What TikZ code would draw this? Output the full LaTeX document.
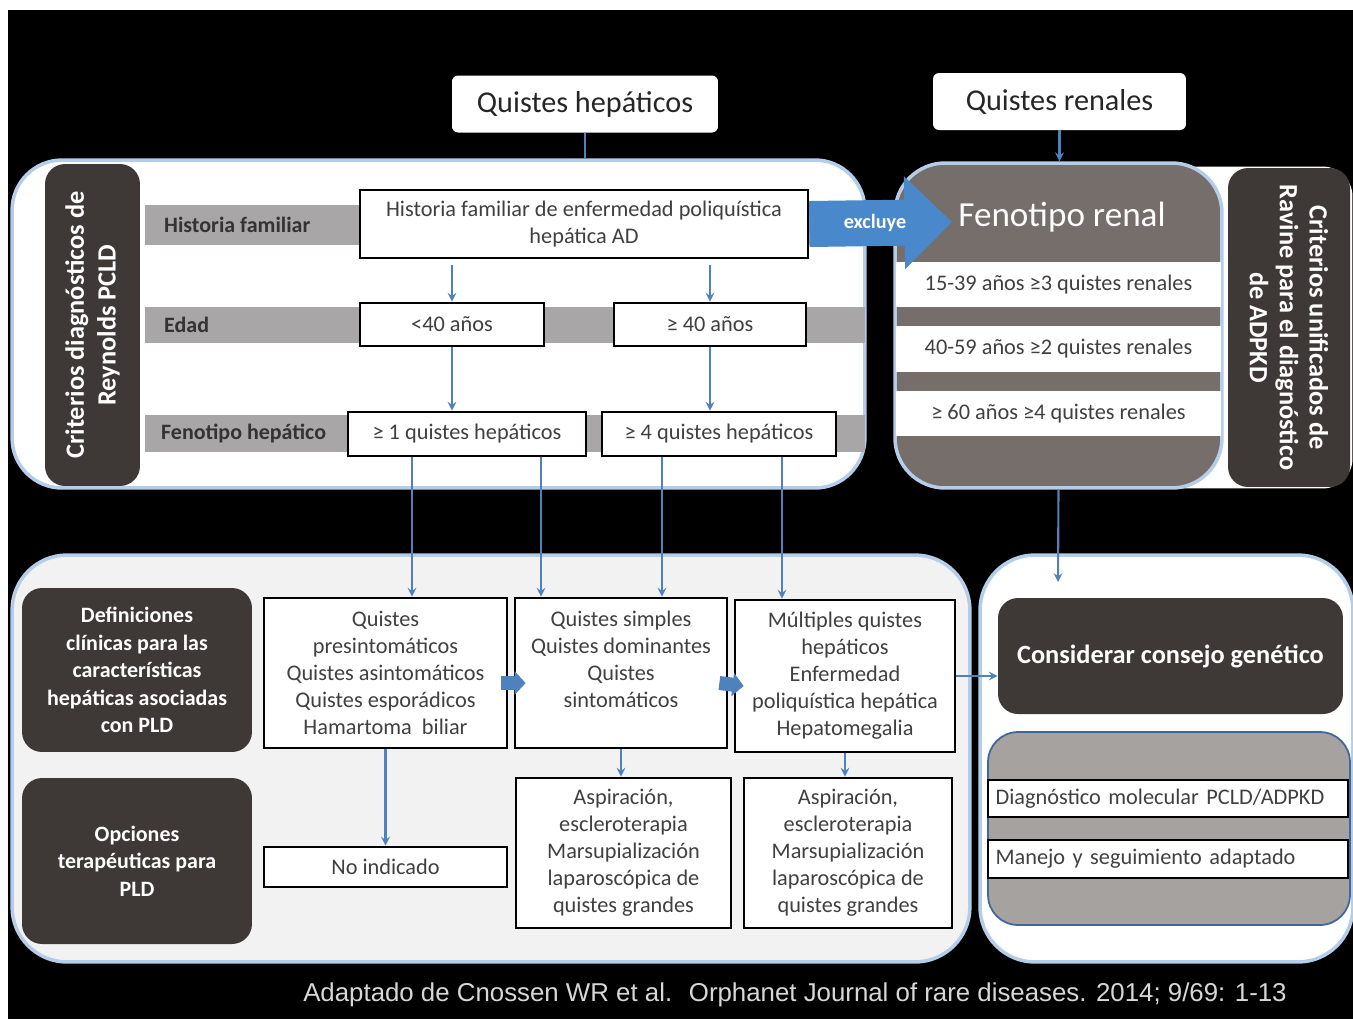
\documentclass[tikz,border=0pt]{standalone}
\usepackage{fontspec}
\setmainfont{Carlito}
\newfontfamily\capfont{Liberation Sans}
\usetikzlibrary{positioning,arrows.meta,calc}
\definecolor{darkbox}{RGB}{62,56,54}
\definecolor{bandgray}{RGB}{168,166,166}
\definecolor{renalgray}{RGB}{118,110,107}
\definecolor{flowblue}{RGB}{79,129,189}
\definecolor{exclblue}{RGB}{74,136,204}
\definecolor{panelgray}{RGB}{242,242,242}
\definecolor{glow}{RGB}{180,205,232}
\definecolor{boxgray}{RGB}{166,162,160}
\definecolor{captxt}{RGB}{215,215,215}
\newcommand\txtbody{\fontsize{12.7}{15.4}\selectfont}
\newcommand\txtlbl{\fontsize{12.5}{15.7}\selectfont\bfseries}

\begin{document}
\begin{tikzpicture}[x=0.02cm,y=-0.02cm,
  panel/.style={draw=glow,line width=2pt,rounded corners=1cm,inner sep=0pt},
  title/.style={fill=white,rounded corners=0.12cm,minimum height=1.14cm,font=\fontsize{17.2}{19}\selectfont,text=black!85},
  darklbl/.style={fill=darkbox,rounded corners=0.4cm,text=white,align=center,inner sep=0pt},
  band/.style={fill=bandgray,minimum width=14.4cm,inner sep=0pt,anchor=west},
  rowlbl/.style={font=\fontsize{12.5}{14}\selectfont\bfseries,text=black!80,anchor=west},
  critbox/.style={draw=black,line width=1.6pt,fill=white,align=center,text=black!75,font=\txtbody,inner sep=1pt},
  strip/.style={fill=white,minimum width=6.5cm,text=black!75,font=\txtbody,inner sep=0pt},
  flow/.style={-stealth,draw=flowblue,line width=1.2pt},
  blockarr/.style={draw=flowblue,line width=0.28cm,-{Triangle[width=0.46cm,length=0.22cm]}}]
\useasboundingbox (0,0) rectangle (1353,1019);
\fill[white] (0,0) rectangle (1353,1019);
\fill[black] (8,10) rectangle (1353,1019);

% titles
\node[title,minimum width=5.32cm] (qhep) at (585,104) {Quistes hepáticos};
\node[title,minimum width=5.06cm] (qren) at (1059.5,101.5) {Quistes renales};

% upper left panel: Reynolds
\node[panel,fill=white,minimum width=17.06cm,minimum height=6.56cm] (hpanel) at (438.5,324) {};
\node[darklbl,rotate=90,minimum width=6.44cm,minimum height=1.9cm,font=\fontsize{15}{18}\selectfont\bfseries] (reyn) at (92.5,325) {Criterios diagnósticos de\\Reynolds PCLD};
\node[band,minimum height=0.8cm] (bandHist) at (145,225) {};
\node[band,minimum height=0.72cm] (bandEdad) at (145,325) {};
\node[band,minimum height=0.74cm] (bandFen) at (145,433.5) {};
\node[rowlbl] (lblHist) at (158,225) {Historia familiar};
\node[rowlbl] (lblEdad) at (158,325) {Edad};
\node[rowlbl] (lblFen) at (155,433.5) {Fenotipo hepático};

\node[critbox,minimum width=8.96cm,minimum height=1.36cm] (hist) at (584,224) {Historia familiar de enfermedad poliquística\\hepática AD};
\node[critbox,minimum width=3.68cm,minimum height=0.86cm] (menos40) at (452,324.5) {<40 años};
\node[critbox,minimum width=3.84cm,minimum height=0.86cm] (mas40) at (710,324.5) {≥ 40 años};
\node[critbox,minimum width=4.76cm,minimum height=0.88cm] (q1) at (467,434) {≥ 1 quistes hepáticos};
\node[critbox,minimum width=4.68cm,minimum height=0.88cm] (q4) at (719,434) {≥ 4 quistes hepáticos};

% upper right panel: Ravine
\node[fill=white,minimum width=4.5cm,minimum height=6.44cm,rounded corners=0.6cm] (ravpanel) at (1240,327.5) {};
\node[panel,fill=renalgray,minimum width=6.54cm,minimum height=6.5cm] (renal) at (1058.5,325.5) {};
\node[text=white,font=\fontsize{20}{22}\selectfont] (fenR) at (1062,217) {Fenotipo renal};
\node[strip,minimum height=0.9cm] (s1) at (1058.5,284.5) {15-39 años ≥3 quistes renales};
\node[strip,minimum height=0.92cm] (s2) at (1058.5,348.5) {40-59 años ≥2 quistes renales};
\node[strip,minimum height=0.9cm] (s3) at (1058.5,413.5) {≥ 60 años ≥4 quistes renales};
\node[darklbl,rotate=-90,minimum width=6.38cm,minimum height=2.44cm,font=\fontsize{15}{17}\selectfont\bfseries] (ravine) at (1289,327.5) {Criterios unificados de\\Ravine para el diagnóstico\\de ADPKD};

% lower panels
\node[panel,fill=panelgray,minimum width=19.16cm,minimum height=8.14cm,rounded corners=1.1cm] (lpanel) at (491,758.5) {};
\node[panel,fill=white,minimum width=7.46cm,minimum height=8.14cm,rounded corners=1.1cm] (rpanel) at (1166.5,758.5) {};

\node[darklbl,minimum width=4.6cm,minimum height=3.28cm,font=\txtlbl] (defbox) at (137,670) {Definiciones\\clínicas para las\\características\\hepáticas asociadas\\con PLD};
\node[darklbl,minimum width=4.6cm,minimum height=3.32cm,font=\txtlbl] (opcbox) at (137,861) {Opciones\\terapéuticas para\\PLD};

\node[critbox,minimum width=4.86cm,minimum height=3cm] (bA) at (385.5,673) {Quistes\\presintomáticos\\Quistes asintomáticos\\Quistes esporádicos\\Hamartoma~ biliar};
\node[critbox,minimum width=4.24cm,minimum height=3cm] (bB) at (621,673) {Quistes simples\\Quistes dominantes\\Quistes\\sintomáticos\\\mbox{}};
\node[critbox,minimum width=4.4cm,minimum height=3.04cm] (bC) at (845,676) {Múltiples quistes\\hepáticos\\Enfermedad\\poliquística hepática\\Hepatomegalia};
\node[critbox,minimum width=4.86cm,minimum height=0.8cm] (noind) at (385.5,867) {No indicado};
\node[critbox,minimum width=4.3cm,minimum height=3cm] (bD) at (623.5,853) {Aspiración,\\escleroterapia\\Marsupialización\\laparoscópica de\\quistes grandes};
\node[critbox,minimum width=4.16cm,minimum height=3cm] (bE) at (848,853) {Aspiración,\\escleroterapia\\Marsupialización\\laparoscópica de\\quistes grandes};

\node[darklbl,minimum width=6.9cm,minimum height=2.32cm,font=\fontsize{15}{17}\selectfont\bfseries] (consejo) at (1170.5,656) {Considerar consejo genético};
\node[panel,draw=flowblue!80!black,line width=1pt,fill=boxgray,minimum width=7.24cm,minimum height=3.86cm,rounded corners=0.6cm] (molpanel) at (1169,828.5) {};
\node[critbox,line width=1.2pt,minimum width=7.2cm,minimum height=0.74cm,text width=6.9cm,align=left] (diag) at (1168,798.5) {Diagnóstico molecular PCLD/ADPKD};
\node[critbox,line width=1.2pt,minimum width=7.2cm,minimum height=0.76cm,text width=6.9cm,align=left] (manejo) at (1168,859) {Manejo y seguimiento adaptado};

% connectors
\coordinate (exclTip) at (952,222);
\coordinate (cgIn) at (1058,582);
\draw[draw=flowblue,line width=1.2pt] (qhep.south) -- (qhep.south |- hpanel.north);
\draw[flow] (qren.south) -- (qren.south |- renal.north);
\draw[flow] ([yshift=-0.12cm]menos40.north |- hist.south) -- (menos40.north);
\draw[flow] ([yshift=-0.12cm]mas40.north |- hist.south) -- (mas40.north);
\draw[flow] (menos40.south) -- (menos40.south |- q1.north);
\draw[flow] (mas40.south) -- (mas40.south |- q4.north);
\draw[flow] ([xshift=-1.1cm]q1.south) -- ([xshift=-1.1cm]q1.south |- bA.north);
\draw[flow] ([xshift=1.48cm]q1.south) -- ([xshift=1.48cm]q1.south |- bB.north);
\draw[flow] ([xshift=-1.14cm]q4.south) -- ([xshift=-1.14cm]q4.south |- bB.north);
\draw[flow] ([xshift=1.26cm]q4.south) -- ([xshift=1.26cm]q4.south |- bC.north);
\draw[flow] (renal.south) -- (cgIn);
\draw[flow] (bA.south) -- (noind.north);
\draw[flow] (bB.south) -- (bB.south |- bD.north);
\draw[flow] (bC.south) -- (bC.south |- bE.north);
\draw[flow] (bC.east) -- (bC.east -| consejo.west);
\draw[blockarr] ([xshift=-0.14cm,yshift=-0.2cm]bA.east) -- ([xshift=0.24cm,yshift=-0.2cm]bB.west);
\draw[blockarr] ([xshift=-0.18cm,yshift=-0.2cm]bB.east) -- ([xshift=0.2cm,yshift=-0.2cm]bC.west);
\draw[draw=exclblue,line width=0.92cm,-{Triangle[width=1.8cm,length=0.95cm]}] (hist.east) -- (exclTip)
  node[pos=0.46,text=white,font=\fontsize{11.5}{12}\selectfont\bfseries] (exclLbl) {excluye};

% source
\node[text=captxt,font=\capfont\fontsize{14.7}{16}\selectfont] (source) at (795,995) {Adaptado de Cnossen WR et al.~ Orphanet Journal of rare diseases. 2014; 9/69: 1-13};
\end{tikzpicture}
\end{document}
